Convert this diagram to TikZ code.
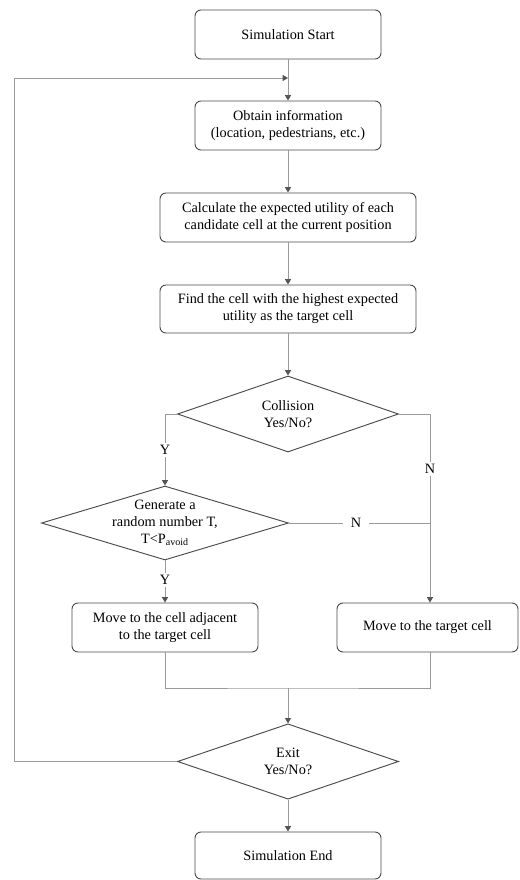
\documentclass[tikz,border=0pt]{standalone}
\usepackage{fontspec}
\setmainfont{Liberation Serif}
\usetikzlibrary{shapes.geometric,arrows.meta}
\definecolor{boxline}{HTML}{4A4A4A}
\definecolor{conn}{HTML}{9A9A9A}
\definecolor{tipc}{HTML}{555555}
\begin{document}
\begin{tikzpicture}[x=0.75pt,y=-0.75pt,
  every node/.style={font=\fontsize{10.7}{12.8}\selectfont},
  procbox/.style={draw=boxline,line width=0.7pt,rounded corners=4.5pt,align=center,inner sep=0pt},
  decbox/.style={draw=boxline,line width=0.7pt,shape=diamond,align=center,inner sep=-4pt},
  conline/.style={draw=conn,line width=0.7pt},
  conarrow/.style={conline,-{Triangle[length=4pt,width=4.5pt,color=tipc]}},
  lab/.style={fill=white,inner sep=2pt}]
\useasboundingbox (0,0) rectangle (520,880);

\node[procbox,minimum width=139.5pt,minimum height=36.75pt] (start) at (288,34.5) {Simulation Start};
\node[procbox,minimum width=139.5pt,minimum height=36.75pt] (obtain) at (288,125.5) {Obtain information\\(location, pedestrians, etc.)};
\node[procbox,minimum width=192pt,minimum height=36.75pt] (calc) at (288,217.5) {Calculate the expected utility of each\\candidate cell at the current position};
\node[procbox,minimum width=192pt,minimum height=36pt] (find) at (288,309) {Find the cell with the highest expected\\utility as the target cell};
\node[decbox,aspect=2.9,minimum width=165.75pt,minimum height=57pt] (col) at (288,414) {Collision\\Yes/No?};
\node[decbox,aspect=3.34,minimum width=185.25pt,minimum height=55.5pt] (gen) at (165,523) {Generate a\\random number T,\\T<P\textsubscript{avoid}};
\node[procbox,minimum width=139.5pt,minimum height=36.75pt] (adj) at (165,627.5) {Move to the cell adjacent\\to the target cell};
\node[procbox,minimum width=135.75pt,minimum height=36.75pt] (tgt) at (427.5,627.5) {Move to the target cell};
\node[decbox,aspect=2.9,minimum width=165.75pt,minimum height=56.5pt] (exit) at (288,761.5) {Exit\\Yes/No?};
\node[procbox,minimum width=139.5pt,minimum height=35.25pt] (end) at (288,855.5) {Simulation End};

\coordinate (rx) at (430,414);
\coordinate (mg) at (288,688);
\coordinate (lx) at (14,761.5);
\coordinate (lp) at (288,78);

\draw[conarrow] (start) -- (obtain);
\draw[conarrow] (obtain) -- (calc);
\draw[conarrow] (calc) -- (find);
\draw[conarrow] (find) -- (col);
\draw[conarrow] (col.west) -| (gen.north);
\draw[conarrow] (col.east) -- (rx) -- (rx |- tgt.north);
\draw[conline] (gen.east) -- (gen.east -| rx);
\draw[conarrow] (gen.south) -- (adj.north);
\draw[conline] (adj.south) |- (mg) -| (rx |- tgt.south);
\draw[conarrow] (mg) -- (exit.north);
\draw[conarrow] (exit.south) -- (end.north);
\draw[conarrow] (exit.west) -- (lx) |- (lp);

\node[lab] (ly1) at (165,450) {Y};
\node[lab] (ln1) at (430,469) {N};
\node[lab,inner xsep=6pt] (ln2) at (356,523) {N};
\node[lab] (ly2) at (165,580) {Y};
\end{tikzpicture}
\end{document}
